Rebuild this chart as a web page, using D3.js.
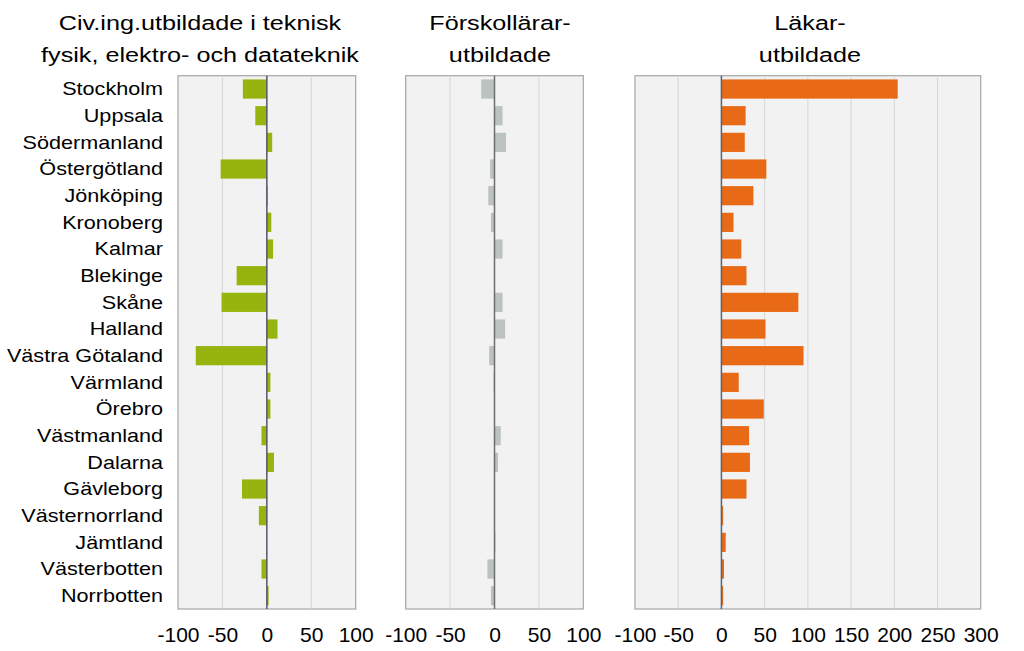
<!DOCTYPE html>
<html><head><meta charset="utf-8">
<script src="https://cdn.jsdelivr.net/npm/d3@7"></script>
<style>body{margin:0;background:#fff;}svg{display:block;font-family:"Liberation Sans",Arial,sans-serif;}</style>
</head><body>
<svg id="chart" width="1024" height="651"></svg>
<script>
const regions = ["Stockholm","Uppsala","Södermanland","Östergötland","Jönköping","Kronoberg","Kalmar","Blekinge","Skåne","Halland","Västra Götaland","Värmland","Örebro","Västmanland","Dalarna","Gävleborg","Västernorrland","Jämtland","Västerbotten","Norrbotten"];
const civingValues = [-27,-13,6,-52,1,5,7,-34,-51,12,-80,4,4,-6,8,-28,-9,0,-6,2];
const forskolValues = [-15,9,13,-5,-7,-4,9,0,9,12,-6,-1,0,7,4,0,0,1,-8,-4];
const lakarValues = [204,28,27,52,37,14,23,29,89,51,95,20,49,32,33,29,2,5,3,2];
const titles = [["Civ.ing.utbildade i teknisk","fysik, elektro- och datateknik"],["Förskollärar-","utbildade"],["Läkar-","utbildade"]];
const ticksSmall = [-100,-50,0,50,100];
const ticksLarge = [-100,-50,0,50,100,150,200,250,300];

const svg = d3.select("#chart");
const plotTop = 75.7, plotBottom = 609;
const y = d3.scaleBand().domain(regions).range([plotTop, plotBottom]).paddingInner(0.28).paddingOuter(0.14);
const stretch = 1.2;

const panels = [
  {values: civingValues, ticks: ticksSmall, x0: 178, x1: 355.7, color: "#95b40e", zero: "#55556a", title: titles[0], tx: 200},
  {values: forskolValues, ticks: ticksSmall, x0: 405.7, x1: 583.3, color: "#bcc2c0", zero: "#6e6e6e", title: titles[1], tx: 500},
  {values: lakarValues, ticks: ticksLarge, x0: 635, x1: 980.7, color: "#e96a16", zero: "#50667a", title: titles[2], tx: 810}
];

svg.append("g").selectAll("text").data(regions).join("text")
  .attr("transform", d => `translate(163,${y(d) + y.bandwidth()/2}) scale(${stretch},1)`)
  .attr("dy", "0.35em").attr("text-anchor", "end")
  .attr("font-size", 18).attr("fill", "#000").text(d => d);

panels.forEach(p => {
  const dom = d3.extent(p.ticks);
  const x = d3.scaleLinear().domain(dom).range([p.x0, p.x1]);
  const g = svg.append("g");
  g.append("rect").attr("x", p.x0).attr("y", plotTop).attr("width", p.x1 - p.x0).attr("height", plotBottom - plotTop)
    .attr("fill", "#f2f2f2").attr("stroke", "#a6a6a6").attr("stroke-width", 1.2);
  g.selectAll("line.grid").data(p.ticks.filter(t => t !== dom[0] && t !== dom[1] && t !== 0)).join("line")
    .attr("class", "grid").attr("x1", d => x(d)).attr("x2", d => x(d)).attr("y1", plotTop).attr("y2", plotBottom)
    .attr("stroke", "#d6d6d6").attr("stroke-width", 1);
  g.selectAll("rect.bar").data(p.values).join("rect").attr("class", "bar")
    .attr("x", d => x(Math.min(0, d))).attr("width", d => Math.abs(x(d) - x(0)))
    .attr("y", (d, i) => y(regions[i])).attr("height", y.bandwidth()).attr("fill", p.color);
  g.append("line").attr("x1", x(0)).attr("x2", x(0)).attr("y1", plotTop).attr("y2", plotBottom)
    .attr("stroke", p.zero).attr("stroke-width", 1.5);
  const axis = d3.axisBottom(x).tickValues(p.ticks).tickSize(0).tickPadding(0).tickFormat(d3.format("d"));
  const ag = g.append("g").attr("transform", `translate(0,${plotBottom})`).call(axis);
  ag.select(".domain").remove();
  ag.selectAll("text").attr("font-size", 21).attr("fill", "#000").attr("font-family", "Liberation Sans, Arial, sans-serif")
    .attr("y", 33).attr("dy", 0).text(d => d < 0 ? "-" + Math.abs(d) : d);
  g.selectAll("text.title").data(p.title).join("text").attr("class", "title")
    .attr("transform", (d, i) => `translate(${p.tx},${30 + i * 31.5}) scale(${stretch},1)`)
    .attr("text-anchor", "middle")
    .attr("font-size", 21).attr("fill", "#000").text(d => d);
});
</script>
</body></html>
